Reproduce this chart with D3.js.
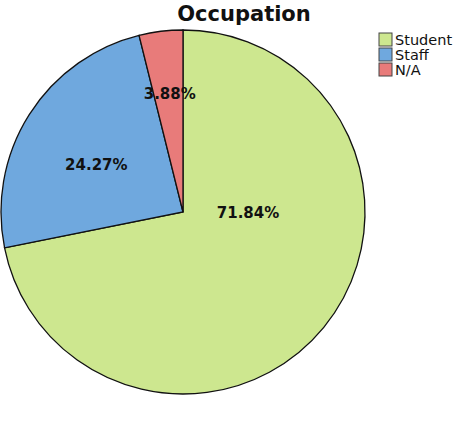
<!DOCTYPE html>
<html>
<head>
<meta charset="utf-8">
<script src="https://cdn.jsdelivr.net/npm/d3@7"></script>
<style>
  body { margin: 0; background: #fff; }
  svg { display: block; }
</style>
</head>
<body>
<div id="chart"></div>
<script>
// chart data
var categories = ["Student", "Staff", "N/A"];
var percents = [71.84, 24.27, 3.88];
var colors = ["#cde78f", "#6fa8de", "#e87b7a"];

var width = 458, height = 432;
var cx = 183, cy = 212, radius = 182;

var svg = d3.select("#chart")
  .append("svg")
    .attr("width", width)
    .attr("height", height);

// title
svg.append("text")
    .attr("x", 244)
    .attr("y", 21)
    .attr("text-anchor", "middle")
    .style("font-family", "DejaVu Sans")
    .style("font-weight", "bold")
    .style("font-size", "21px")
    .style("fill", "#111")
    .text("Occupation");

var pie = d3.pie().sort(null).value(function(d) { return d; });
var arcs = pie(percents);

var arc = d3.arc().innerRadius(0).outerRadius(radius);

var g = svg.append("g")
    .attr("transform", "translate(" + cx + "," + cy + ")");

g.selectAll("path")
  .data(arcs)
  .enter()
  .append("path")
    .attr("d", arc)
    .style("fill", function(d, i) { return colors[i]; })
    .style("stroke", "#111")
    .style("stroke-width", 1.3);

// label placement: radius + angle shift (SPSS puts the big one off-centre)
var labelRadius = [65, 99, 119];
var labelShift = [-0.68, -0.06, 0.01];

g.selectAll(".lbl")
  .data(arcs)
  .enter()
  .append("text")
    .attr("class", "lbl")
    .attr("transform", function(d, i) {
      var a = (d.startAngle + d.endAngle) / 2 + labelShift[i];
      var p = d3.arc().innerRadius(labelRadius[i]).outerRadius(labelRadius[i])
        .centroid({startAngle: a, endAngle: a});
      return "translate(" + p[0] + "," + p[1] + ")";
    })
    .attr("text-anchor", "middle")
    .attr("dy", "0.36em")
    .style("font-family", "DejaVu Sans")
    .style("font-weight", "bold")
    .style("font-size", "15px")
    .style("fill", "#111")
    .text(function(d, i) { return percents[i].toFixed(2) + "%"; });

// legend
var legend = svg.append("g")
    .attr("transform", "translate(379,33)");

var rows = legend.selectAll("g")
  .data(categories)
  .enter()
  .append("g")
    .attr("transform", function(d, i) { return "translate(0," + (i * 15) + ")"; });

rows.append("rect")
    .attr("width", 13)
    .attr("height", 13)
    .style("fill", function(d, i) { return colors[i]; })
    .style("stroke", "#444")
    .style("stroke-width", 1);

rows.append("text")
    .attr("x", 16)
    .attr("y", 12)
    .style("font-family", "DejaVu Sans")
    .style("font-size", "14.5px")
    .style("fill", "#111")
    .text(function(d) { return d; });

// caption, mostly cut off at the bottom edge like the reference
svg.append("text")
    .attr("x", 57)
    .attr("y", 446.5)
    .style("font-family", "Liberation Serif")
    .style("font-size", "22px")
    .style("fill", "#222")
    .text("Figure 1: Participant occupation");
</script>
</body>
</html>
